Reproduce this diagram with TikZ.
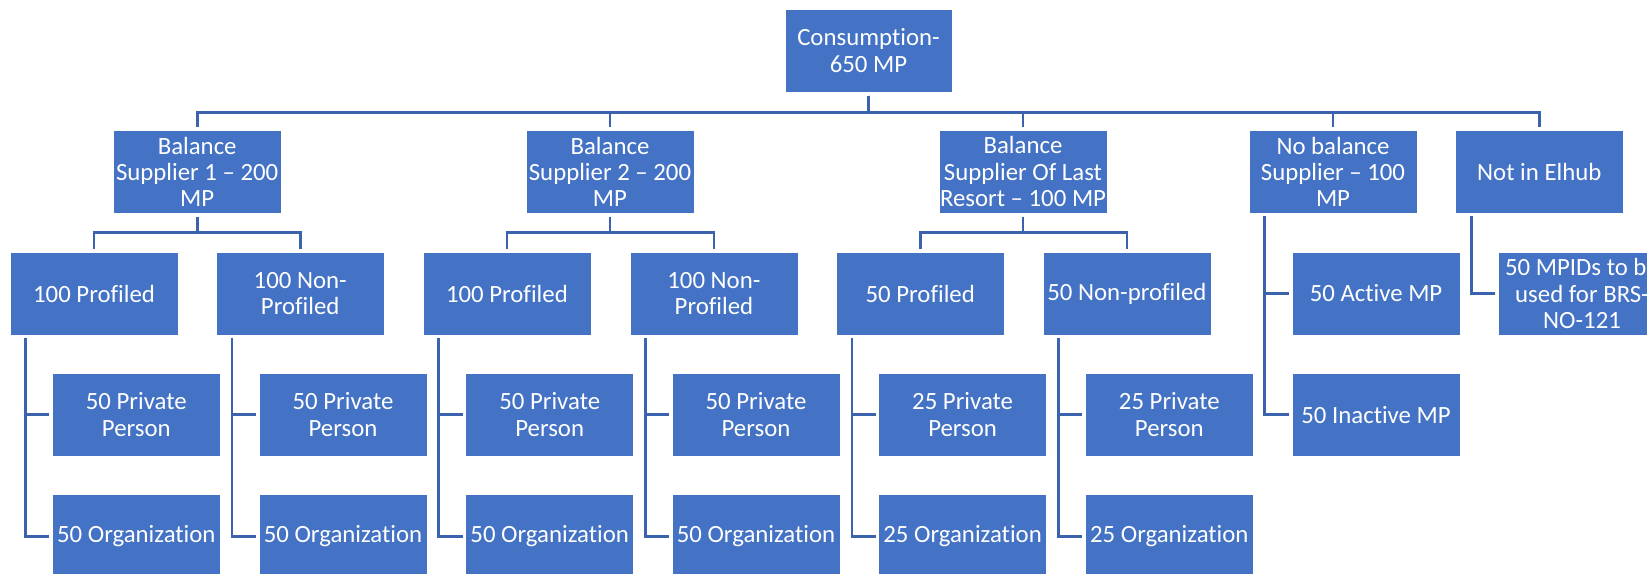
\documentclass[tikz,border=0pt]{standalone}
\usepackage{fontspec}
\setmainfont{Carlito}[Ligatures={NoCommon}]
\usetikzlibrary{calc}
\definecolor{boxblue}{HTML}{4472C4}
\definecolor{lineblue}{HTML}{3B62AC}
\begin{document}
\begin{tikzpicture}[x=1bp,y=-1bp,
  box/.style={rectangle, fill=boxblue, draw=white, line width=0.8bp,
    minimum width=168bp, minimum height=83bp, inner sep=0pt, text=white,
    align=center, font=\fontsize{24.8bp}{26.4bp}\selectfont},
  conn/.style={draw=lineblue, line width=2.6bp, shorten <=3bp, shorten >=3bp},
  col/.style={draw=lineblue, line width=2.6bp, shorten <=2.5bp, shorten >=2.5bp}]
\useasboundingbox (0,0) rectangle (1647,574);
\fill[white] (0,0) rectangle (1647,574);

% root
\node[box, minimum width=167bp] (root) at (868.5,50.7) {Consumption-\\650 MP};

% level 1
\node[box] (b1) at (197.2,171.8) {Balance\\Supplier 1 – 200\\MP};
\node[box] (b2) at (610,171.8) {Balance\\Supplier 2 – 200\\MP};
\node[box] (b3) at (1023,171.8) {Balance\\Supplier Of Last\\Resort – 100 MP};
\node[box] (nb) at (1333,171.8) {No balance\\Supplier – 100\\MP};
\node[box] (ne) at (1539.3,171.8) {Not in Elhub};

% level 2
\node[box] (p1) at (94,293.5) {100 Profiled};
\node[box] (n1) at (300.2,293.5) {100 Non-\\Profiled};
\node[box] (p2) at (506.9,293.5) {100 Profiled};
\node[box] (n2) at (713.9,293.5) {100 Non-\\Profiled};
\node[box] (p3) at (920.2,293.5) {50 Profiled};
\node[box] (n3) at (1126.9,293.5) {50 Non-profiled};
\node[box] (act) at (1376,293.5) {50 Active MP};
\node[box] (mp) at (1582,293.5) {50 MPIDs to be\\used for BRS-\\NO-121};

% level 3
\node[box] (pp1) at (136.3,414.7) {50 Private\\Person};
\node[box] (pn1) at (343,414.7) {50 Private\\Person};
\node[box] (pp2) at (549.7,414.7) {50 Private\\Person};
\node[box] (pn2) at (756,414.7) {50 Private\\Person};
\node[box] (pp3) at (962.6,414.7) {25 Private\\Person};
\node[box] (pn3) at (1169.3,414.7) {25 Private\\Person};
\node[box] (inact) at (1376,414.7) {50 Inactive MP};

% level 4
\node[box] (op1) at (136.3,536.2) {50 Organization};
\node[box] (on1) at (343,536.2) {50 Organization};
\node[box] (op2) at (549.7,536.2) {50 Organization};
\node[box] (on2) at (756,536.2) {50 Organization};
\node[box] (op3) at (962.6,536.2) {25 Organization};
\node[box] (on3) at (1169.3,536.2) {25 Organization};

% root to level 1
\foreach \c in {b1,b2,b3,nb,ne}
  \draw[conn] (root.south) -- ++(0,19.7) -| (\c.north);

% level 1 to level 2 (buses)
\draw[conn] (b1.south) -- ++(0,19) -| (p1.north);
\draw[conn] (b1.south) -- ++(0,19) -| (n1.north);
\draw[conn] (b2.south) -- ++(0,19) -| (p2.north);
\draw[conn] (b2.south) -- ++(0,19) -| (n2.north);
\draw[conn] (b3.south) -- ++(0,19) -| (p3.north);
\draw[conn] (b3.south) -- ++(0,19) -| (n3.north);

% side connectors
\draw[col] ([xshift=15.6bp]nb.south west) |- (act.west);
\draw[col] ([xshift=15.6bp]nb.south west) |- (inact.west);
\draw[col] ([xshift=16.4bp]ne.south west) |- (mp.west);

\foreach \p/\a/\b in {p1/pp1/op1, n1/pn1/on1, p2/pp2/op2, n2/pn2/on2, p3/pp3/op3, n3/pn3/on3}{
  \draw[col] ([xshift=16bp]\p.south west) |- (\a.west);
  \draw[col] ([xshift=16bp]\p.south west) |- (\b.west);
}
\end{tikzpicture}
\end{document}
